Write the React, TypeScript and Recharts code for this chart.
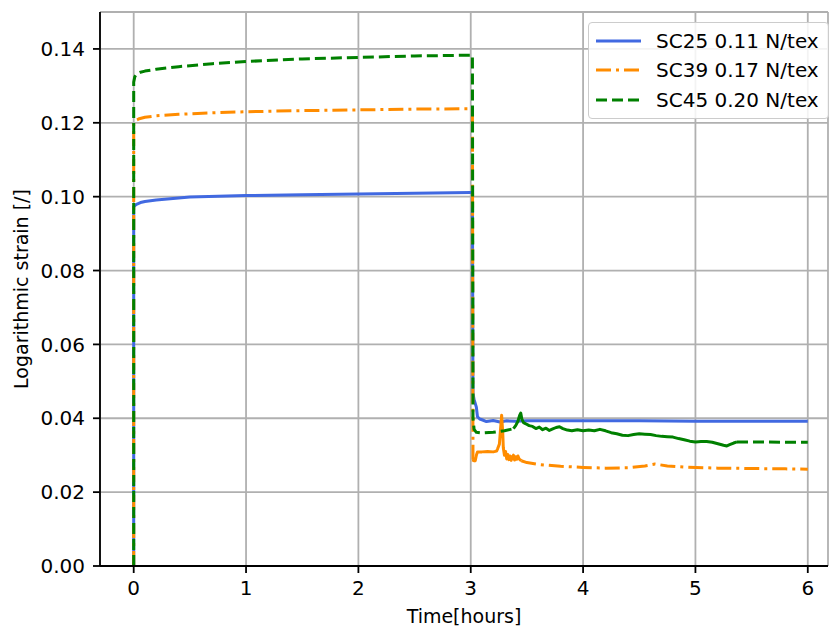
import React from 'react';
import {
  LineChart,
  Line,
  XAxis,
  YAxis,
  CartesianGrid,
  Label,
} from 'recharts';

const FONT = '"DejaVu Sans", sans-serif';

// axis ticks
const X_TICKS = [0, 1, 2, 3, 4, 5, 6];
const Y_TICKS = [0, 0.02, 0.04, 0.06, 0.08, 0.1, 0.12, 0.14];

// SC25 0.11 N/tex (solid the whole way)
const SC25_T = [0, 0, 0.01, 0.03, 0.06, 0.1, 0.2, 0.35, 0.5, 0.75, 1, 1.5, 2, 2.5, 3, 3.015, 3.02, 3.03, 3.05, 3.06, 3.08, 3.1, 3.14, 3.2, 3.26, 3.32, 3.4, 3.5, 4, 4.5, 5, 5.5, 6];
const SC25_V = [0, 0.0972, 0.0976, 0.098, 0.0984, 0.0987, 0.0991, 0.0995, 0.0999, 0.1001, 0.1003, 0.1005, 0.1007, 0.1009, 0.1011, 0.1011, 0.0468, 0.045, 0.043, 0.0404, 0.0398, 0.0396, 0.0391, 0.0394, 0.039, 0.0393, 0.0392, 0.0393, 0.0393, 0.0393, 0.0392, 0.0392, 0.0392];

// SC39 0.17 N/tex: dash-dot head, noisy middle, dash-dot tail
const SC39_HEAD_T = [0, 0, 0.02, 0.05, 0.1, 0.2, 0.4, 0.7, 1, 1.5, 2, 2.5, 3, 3.015, 3.02];
const SC39_HEAD_V = [0, 0.1202, 0.1207, 0.1211, 0.1215, 0.1219, 0.1223, 0.1227, 0.123, 0.1233, 0.1235, 0.1237, 0.1238, 0.1238, 0.0282];
const SC39_NOISE_T = [3.02, 3.03, 3.04, 3.05, 3.06, 3.1, 3.15, 3.2, 3.23, 3.24, 3.255, 3.265, 3.275, 3.285, 3.29, 3.3, 3.31, 3.32, 3.33, 3.34, 3.35, 3.36, 3.37, 3.38, 3.39, 3.4, 3.41, 3.42, 3.43, 3.45];
const SC39_NOISE_V = [0.0282, 0.029, 0.0285, 0.03, 0.0309, 0.0309, 0.031, 0.0309, 0.0311, 0.0318, 0.033, 0.037, 0.0408, 0.036, 0.032, 0.03, 0.031, 0.029, 0.0302, 0.0288, 0.0298, 0.0286, 0.0295, 0.03, 0.0287, 0.0296, 0.0289, 0.0298, 0.029, 0.0285];
const SC39_TAIL_T = [3.45, 3.5, 3.6, 3.8, 4, 4.2, 4.4, 4.55, 4.64, 4.75, 4.9, 5.2, 5.5, 5.8, 6];
const SC39_TAIL_V = [0.0285, 0.028, 0.0275, 0.027, 0.0267, 0.0265, 0.0266, 0.0271, 0.0276, 0.0271, 0.0268, 0.0265, 0.0264, 0.0263, 0.0262];

// SC45 0.20 N/tex: dashed head, noisy middle, dashed tail
const SC45_HEAD_T = [0, 0, 0.01, 0.03, 0.06, 0.1, 0.2, 0.4, 0.7, 1, 1.5, 2, 2.5, 3, 3.015, 3.02, 3.03, 3.05, 3.1, 3.2, 3.3, 3.38];
const SC45_HEAD_V = [0, 0.131, 0.1325, 0.1333, 0.1337, 0.134, 0.1345, 0.1352, 0.136, 0.1366, 0.1373, 0.1377, 0.1381, 0.1383, 0.1383, 0.04, 0.037, 0.0362, 0.036, 0.0362, 0.0366, 0.0372];
const SC45_NOISE_T = [3.38, 3.4, 3.42, 3.435, 3.445, 3.455, 3.47, 3.49, 3.52, 3.55, 3.58, 3.61, 3.64, 3.67, 3.7, 3.73, 3.76, 3.79, 3.82, 3.86, 3.9, 3.95, 4, 4.05, 4.1, 4.15, 4.2, 4.25, 4.3, 4.35, 4.4, 4.45, 4.5, 4.55, 4.6, 4.65, 4.7, 4.75, 4.8, 4.85, 4.9, 4.95, 5, 5.05, 5.1, 5.15, 5.2, 5.25, 5.28, 5.31, 5.34, 5.37];
const SC45_NOISE_V = [0.0372, 0.038, 0.0392, 0.0408, 0.0414, 0.0398, 0.0388, 0.0385, 0.038, 0.0378, 0.0372, 0.0376, 0.0369, 0.0373, 0.0367, 0.0371, 0.0375, 0.0377, 0.0372, 0.0368, 0.0366, 0.0369, 0.0366, 0.0368, 0.0366, 0.037, 0.0366, 0.0361, 0.0358, 0.0354, 0.0353, 0.0356, 0.0358, 0.0357, 0.0356, 0.0353, 0.0351, 0.035, 0.0349, 0.0345, 0.0342, 0.0338, 0.0336, 0.0337, 0.0337, 0.0335, 0.0331, 0.0327, 0.0325, 0.0329, 0.0333, 0.0336];
const SC45_TAIL_T = [5.37, 5.6, 5.8, 6];
const SC45_TAIL_V = [0.0336, 0.0336, 0.0335, 0.0335];

const zip = (t: number[], v: number[]) => t.map((x, i) => ({ t: x, v: v[i] }));

const BLUE = '#4169e1';
const ORANGE = '#ff8c00';
const GREEN = '#008000';
const DASH = '11 5';
const DASH_DOT = '15 5 3 5';

const series = [
  { name: 'SC25 0.11 N/tex', color: BLUE, dash: undefined as string | undefined },
  { name: 'SC39 0.17 N/tex', color: ORANGE, dash: DASH_DOT },
  { name: 'SC45 0.20 N/tex', color: GREEN, dash: DASH },
];

// legend drawn over the top-right corner of the plot, matplotlib style
const LegendBox = () => (
  <div
    style={{
      position: 'absolute',
      left: 588,
      top: 22,
      width: 241,
      height: 97,
      boxSizing: 'border-box',
      border: '1px solid #cccccc',
      borderRadius: 4,
      background: 'rgba(255,255,255,0.85)',
      fontFamily: FONT,
      fontSize: 20,
      color: '#000',
      paddingTop: 3,
    }}
  >
    {series.map((s) => (
      <div key={s.name} style={{ display: 'flex', alignItems: 'center', height: 29.5 }}>
        <svg width={60} height={10} style={{ marginLeft: 7 }}>
          <line x1={0} y1={5} x2={45} y2={5} stroke={s.color} strokeWidth={3} strokeDasharray={s.dash} />
        </svg>
        <span style={{ whiteSpace: 'nowrap' }}>{s.name}</span>
      </div>
    ))}
  </div>
);

const YLabel = () => (
  <text
    transform="translate(28,289) rotate(-90)"
    textAnchor="middle"
    fontFamily={FONT}
    fontSize={19}
    fill="#000"
  >
    Logarithmic strain [/]
  </text>
);

const spine = { stroke: '#000', strokeWidth: 1.8 };

export default function App() {
  const lineProps = {
    type: 'linear' as const,
    dataKey: 'v',
    dot: false,
    activeDot: false,
    isAnimationActive: false,
    strokeWidth: 3,
    strokeLinejoin: 'round' as const,
  };

  return (
    <div style={{ position: 'absolute', left: 0, top: 0, width: 833, height: 630, background: '#fff' }}>
      <LineChart width={833} height={630} margin={{ top: 12, right: 5, bottom: 0, left: 0 }} style={{ fontFamily: FONT }}>
        <CartesianGrid stroke="#b0b0b0" strokeWidth={1.8} />
        <XAxis
          type="number"
          dataKey="t"
          domain={[-0.3, 6.18]}
          ticks={X_TICKS}
          allowDataOverflow
          height={64}
          axisLine={spine}
          tickLine={spine}
          tickSize={7}
          tickMargin={8}
          tick={{ fill: '#000', fontSize: 20, fontFamily: FONT }}
        >
          <Label value="Time[hours]" position="insideBottom" offset={7} fill="#000" fontSize={19} fontFamily={FONT} />
        </XAxis>
        <XAxis xAxisId="top" orientation="top" type="number" domain={[-0.3, 6.18]} height={0} tick={false} tickLine={false} axisLine={spine} />
        <YAxis
          type="number"
          domain={[0, 0.15]}
          ticks={Y_TICKS}
          allowDataOverflow
          width={100}
          axisLine={spine}
          tickLine={spine}
          tickSize={7}
          tickMargin={8}
          tickFormatter={(v: number) => v.toFixed(2)}
          tick={{ fill: '#000', fontSize: 20, fontFamily: FONT }}
        >
          <Label content={<YLabel />} />
        </YAxis>
        <YAxis yAxisId="right" orientation="right" domain={[0, 0.15]} width={0} tick={false} tickLine={false} axisLine={spine} />

        <Line {...lineProps} data={zip(SC25_T, SC25_V)} stroke={BLUE} name="SC25 0.11 N/tex" />

        <Line {...lineProps} data={zip(SC39_HEAD_T, SC39_HEAD_V)} stroke={ORANGE} strokeDasharray={DASH_DOT} name="SC39 0.17 N/tex" />
        <Line {...lineProps} data={zip(SC39_NOISE_T, SC39_NOISE_V)} stroke={ORANGE} />
        <Line {...lineProps} data={zip(SC39_TAIL_T, SC39_TAIL_V)} stroke={ORANGE} strokeDasharray={DASH_DOT} />

        <Line {...lineProps} data={zip(SC45_HEAD_T, SC45_HEAD_V)} stroke={GREEN} strokeDasharray={DASH} name="SC45 0.20 N/tex" />
        <Line {...lineProps} data={zip(SC45_NOISE_T, SC45_NOISE_V)} stroke={GREEN} />
        <Line {...lineProps} data={zip(SC45_TAIL_T, SC45_TAIL_V)} stroke={GREEN} strokeDasharray={DASH} />
      </LineChart>
      <LegendBox />
    </div>
  );
}
